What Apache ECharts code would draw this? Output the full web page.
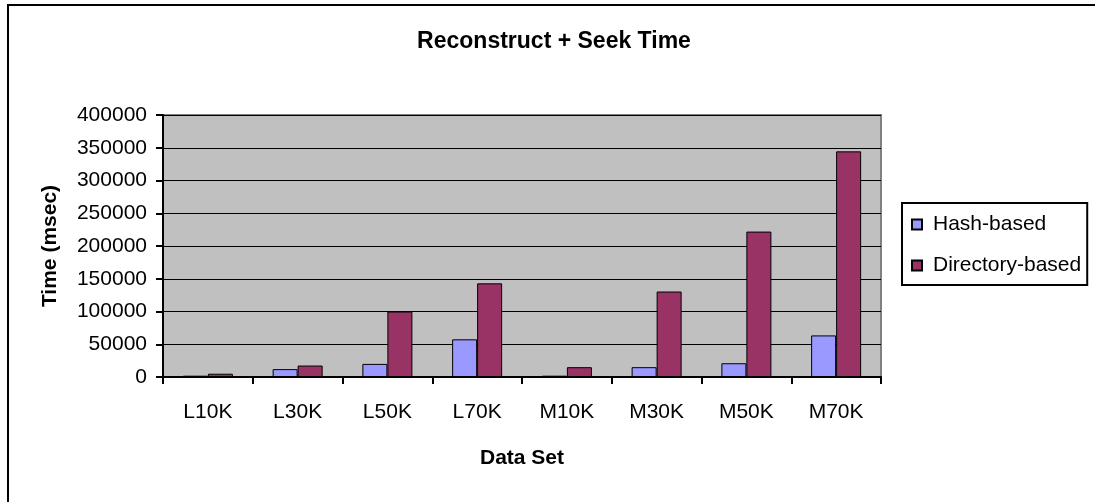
<!DOCTYPE html>
<html>
<head>
<meta charset="utf-8">
<script src="https://cdn.jsdelivr.net/npm/echarts@6/dist/echarts.min.js"></script>
<style>
html,body{margin:0;padding:0;background:#fff;}
#chart{width:1095px;height:502px;}
</style>
</head>
<body>
<div id="chart"></div>
<script>
const categories = ['L10K', 'L30K', 'L50K', 'L70K', 'M10K', 'M30K', 'M50K', 'M70K'];
const hashBased = [2000, 12000, 20000, 57500, 2000, 15000, 21000, 63500];
const directoryBased = [5000, 17500, 100000, 143000, 15000, 130500, 222000, 344500];
const seriesNames = ['Hash-based', 'Directory-based'];
const chartTitle = 'Reconstruct + Seek Time';
const xAxisName = 'Data Set';
const yAxisName = 'Time (msec)';

const FONT = "'Liberation Sans', Arial, sans-serif";
const chart = echarts.init(document.getElementById('chart'), null, {renderer: 'canvas'});
chart.setOption({
  animation: false,
  backgroundColor: '#ffffff',
  graphic: [
    {type: 'rect', shape: {x: 8, y: 5, width: 1200, height: 600},
     style: {fill: 'none', stroke: '#000', lineWidth: 2}, silent: true, z: -1},
    {type: 'text', x: 554, y: 42,
     style: {text: chartTitle, textAlign: 'center', textVerticalAlign: 'middle',
             font: 'bold 23px ' + FONT, fill: '#000'}}
  ],
  grid: {left: 163, top: 115, width: 718, height: 262, show: true,
         backgroundColor: '#C0C0C0', borderColor: '#808080', borderWidth: 2},
  legend: {
    orient: 'vertical', left: 902, top: 203,
    data: seriesNames,
    itemWidth: 10, itemHeight: 10, itemGap: 20,
    icon: 'rect',
    borderColor: '#000', borderWidth: 2,
    padding: [11, 6, 9, 9],
    backgroundColor: '#fff',
    textStyle: {fontSize: 21, fontFamily: FONT, color: '#000', padding: [0, 0, 0, 6]}
  },
  xAxis: {
    type: 'category', data: categories, boundaryGap: true,
    name: xAxisName, nameLocation: 'middle', nameGap: 71,
    nameTextStyle: {fontSize: 21, fontWeight: 'bold', fontFamily: FONT, color: '#000'},
    axisLine: {lineStyle: {color: '#000', width: 2}},
    axisTick: {show: true, length: 7, lineStyle: {color: '#000', width: 2}},
    axisLabel: {fontSize: 21, fontFamily: FONT, color: '#000', margin: 25}
  },
  yAxis: {
    type: 'value', min: 0, max: 400000, interval: 50000,
    name: yAxisName, nameLocation: 'middle', nameGap: 102, nameRotate: 90,
    nameTextStyle: {fontSize: 21, fontWeight: 'bold', fontFamily: FONT, color: '#000'},
    axisLine: {show: true, lineStyle: {color: '#000', width: 2}},
    axisTick: {show: true, length: 7, lineStyle: {color: '#000', width: 2}},
    axisLabel: {fontSize: 21, fontFamily: FONT, color: '#000', margin: 16,
                formatter: function (v) { return String(v); }},
    splitLine: {show: true, lineStyle: {color: '#000', width: 1}}
  },
  series: [
    {name: seriesNames[0], type: 'bar', data: hashBased, barWidth: 25, barGap: '0%',
     itemStyle: {color: '#9999FF', borderColor: '#000', borderWidth: 1}},
    {name: seriesNames[1], type: 'bar', data: directoryBased, barWidth: 25, barGap: '0%',
     itemStyle: {color: '#993366', borderColor: '#000', borderWidth: 1}}
  ]
});
</script>
</body>
</html>
